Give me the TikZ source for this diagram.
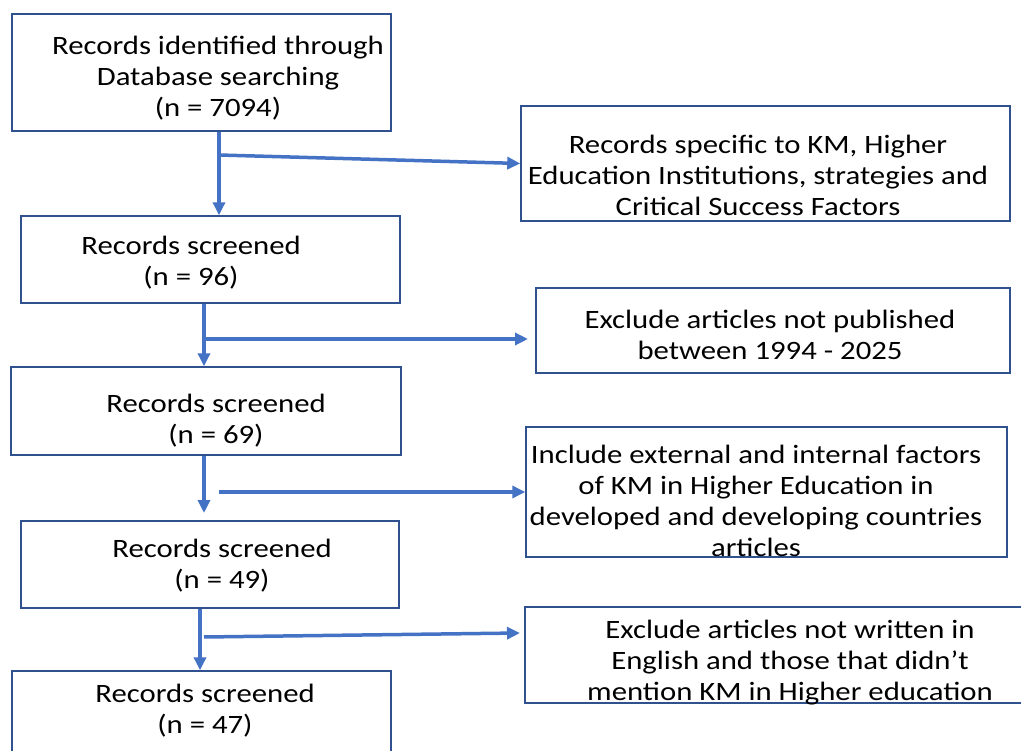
\documentclass[tikz,border=0pt]{standalone}
\usepackage{fontspec}
\setmainfont{Carlito}[FakeStretch=1.16]
\usetikzlibrary{arrows.meta}
\definecolor{arrblue}{HTML}{4472C4}
\definecolor{boxblue}{HTML}{2F528F}
\begin{document}
\begin{tikzpicture}[x=1pt,y=-1pt,
  box/.style={draw=boxblue, line width=1.4pt, rectangle, inner sep=0pt},
  txt/.style={align=center, inner sep=0pt, font=\fontsize{26.5}{31}\selectfont},
  arr/.style={draw=arrblue, line width=3.5pt, -{Triangle[length=13pt,width=12pt]}}]
\useasboundingbox (0,0) rectangle (1021,751);
\clip (0,0) rectangle (1021,751);

% left column boxes
\node[box, minimum width=379pt, minimum height=117pt] (b1) at (201.5,72.5) {};
\node[txt] (b1t) at (218,78) {Records identified through\\Database searching\\(n = 7094)};

\node[box, minimum width=379pt, minimum height=87pt] (b2) at (210.5,259.5) {};
\node[txt] (b2t) at (191,262.5) {Records screened\\(n = 96)};

\node[box, minimum width=390pt, minimum height=88pt] (b3) at (206,411) {};
\node[txt] (b3t) at (216,421) {Records screened\\(n = 69)};

\node[box, minimum width=378pt, minimum height=87pt] (b4) at (210,564.5) {};
\node[txt] (b4t) at (222,566) {Records screened\\(n = 49)};

\node[box, minimum width=379pt, minimum height=94pt] (b5) at (201.5,718) {};
\node[txt] (b5t) at (205,710.5) {Records screened\\(n = 47)};

% right column boxes
\node[box, minimum width=489pt, minimum height=115pt] (r1) at (765.5,163.5) {};
\node[txt] (r1t) at (758,175) {Records specific to KM, Higher\\Education Institutions, strategies and\\Critical Success Factors};

\node[box, minimum width=474pt, minimum height=85pt] (r2) at (773,330.5) {};
\node[txt] (r2t) at (770,334.5) {Exclude articles not published\\between 1994 - 2025};

\node[box, minimum width=481pt, minimum height=130pt] (r3) at (766.5,492) {};
\node[txt] (r3t) at (756,501) {Include external and internal factors\\of KM in Higher Education in\\developed and developing countries\\articles};

\node[box, minimum width=500pt, minimum height=96pt] (r4) at (775,655) {};
\node[txt] (r4t) at (790,662.5) {Exclude articles not written in\\English and those that didn’t\\mention KM in Higher education};

% connector points
\coordinate (c1) at (219,155);
\coordinate (c2) at (204,339);
\coordinate (c2e) at (528,339);
\coordinate (c3) at (204,492);
\coordinate (c3e) at (204,513);
\coordinate (c3s) at (219,492);
\coordinate (c4) at (200,637);
\coordinate (c4s) at (204,637);
\coordinate (c4e) at (520,633);

% connectors
\draw[arr] (c1 |- b1.south) -- (c1 |- b2.north);
\draw[arr] (c1) -- (r1.west);
\draw[arr] (c2 |- b2.south) -- (c2 |- b3.north);
\draw[arr] (c2) -- (c2e);
\draw[arr] (c3 |- b3.south) -- (c3e);
\draw[arr] (c3s) -- (r3.west);
\draw[arr] (c4 |- b4.south) -- (c4 |- b5.north);
\draw[arr] (c4s) -- (c4e);
\end{tikzpicture}
\end{document}
